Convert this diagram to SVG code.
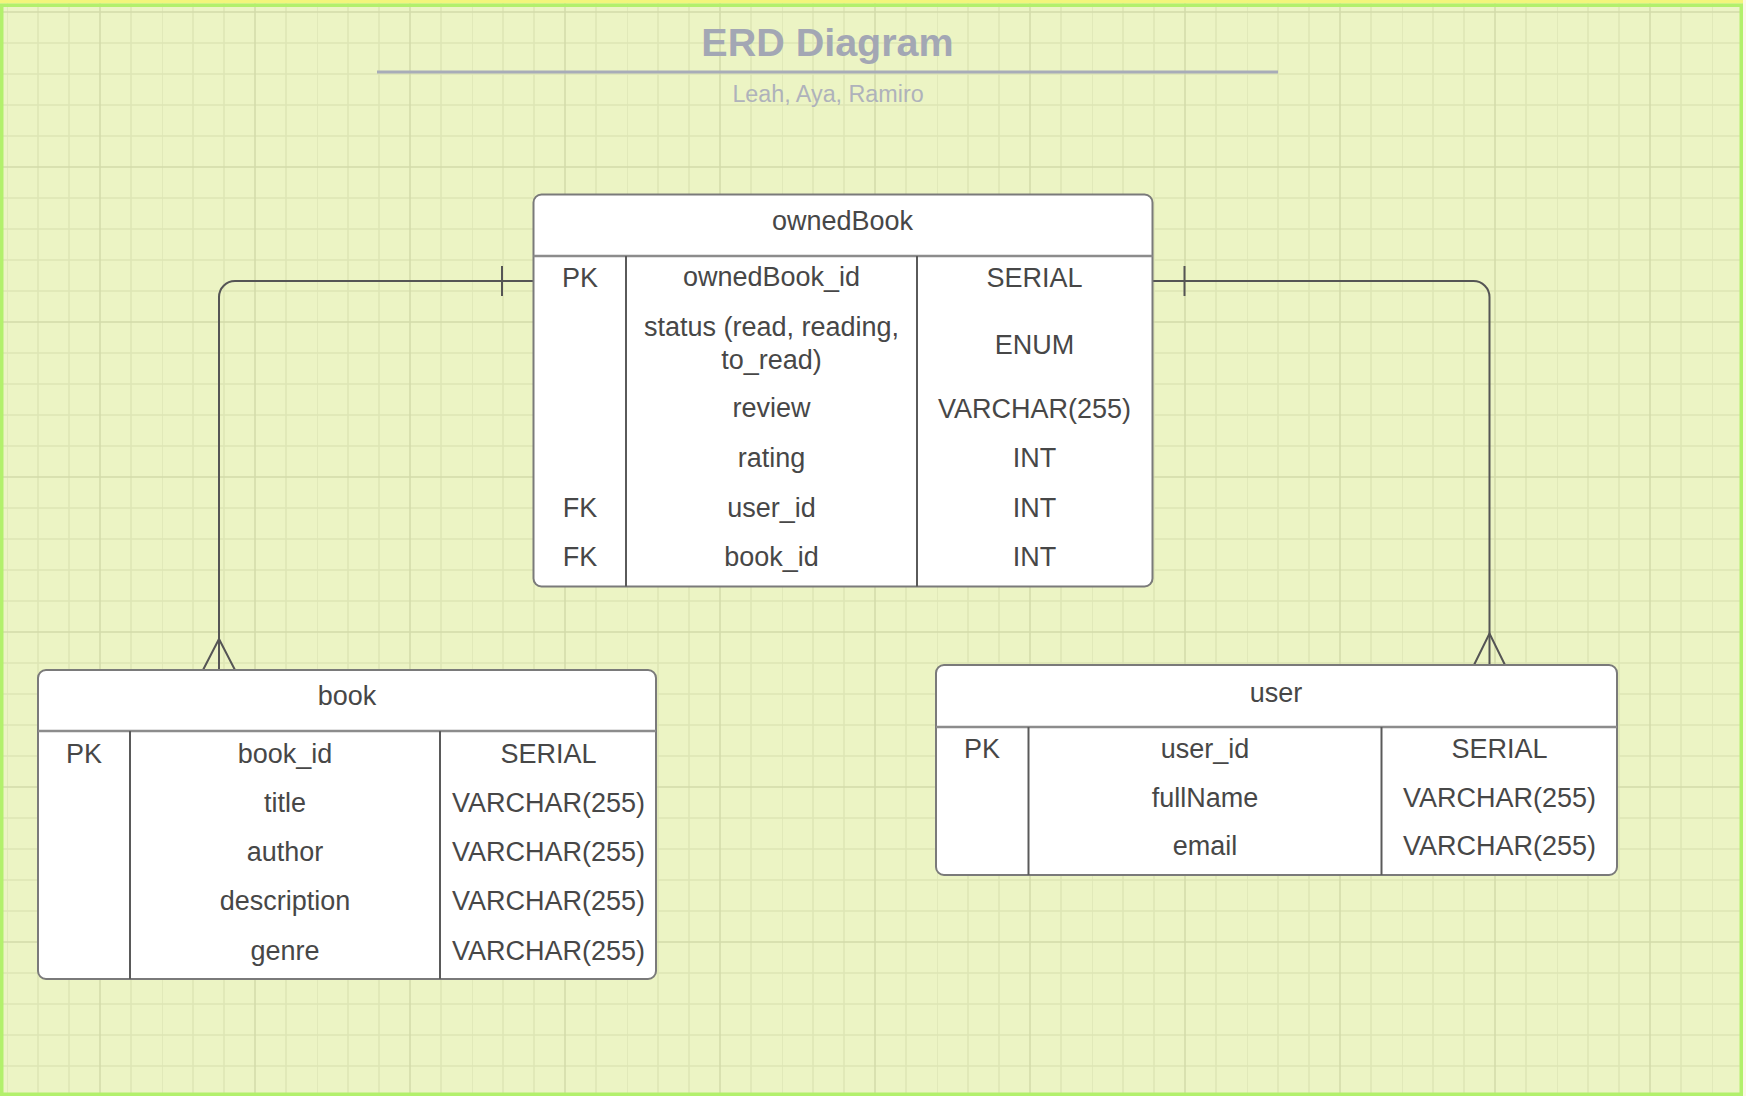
<svg xmlns="http://www.w3.org/2000/svg" width="1746" height="1096" viewBox="0 0 1746 1096">
<defs>
<pattern id="grid" patternUnits="userSpaceOnUse" x="7" y="12" width="155" height="155">
<rect x="0" y="0" width="155" height="155" fill="#ecf4c4"/>
<rect x="-0.75" y="0" width="1.5" height="155" fill="#dee6b5"/>
<rect x="30.25" y="0" width="1.5" height="155" fill="#dee6b5"/>
<rect x="61.25" y="0" width="1.5" height="155" fill="#dee6b5"/>
<rect x="123.25" y="0" width="1.5" height="155" fill="#dee6b5"/>
<rect x="0" y="30.25" width="155" height="1.5" fill="#dee6b5"/>
<rect x="0" y="61.25" width="155" height="1.5" fill="#dee6b5"/>
<rect x="0" y="92.25" width="155" height="1.5" fill="#dee6b5"/>
<rect x="0" y="123.25" width="155" height="1.5" fill="#dee6b5"/>
<rect x="92.25" y="0" width="1.5" height="155" fill="#d3dbaa"/>
<rect x="0" y="-0.75" width="155" height="1.5" fill="#d3dbaa"/>
<rect x="0" y="154.25" width="155" height="1.5" fill="#d3dbaa"/>
</pattern>
</defs>
<style>
.box{fill:#ffffff;stroke:#7a7a7a;stroke-width:2}
.hsep{stroke:#8c8c8c;stroke-width:2.5;fill:none}
.col{stroke:#5a5a5a;stroke-width:2;fill:none}
.t{font-family:"Liberation Sans",Arial,sans-serif;font-size:27px;fill:#474747;text-anchor:middle}
.conn{stroke:#555555;stroke-width:2;fill:none}
.title{font-family:"Liberation Sans",Arial,sans-serif;font-size:39.5px;font-weight:bold;fill:#a3a7b4;text-anchor:middle}
.sub{font-family:"Liberation Sans",Arial,sans-serif;font-size:23.3px;fill:#afb2bb;text-anchor:middle}
</style>
<rect x="0" y="0" width="1746" height="1096" fill="#fcf6ea"/>
<rect x="0" y="0" width="1743" height="1096" fill="url(#grid)"/>
<rect x="0" y="0" width="1743" height="3.5" fill="#f2f57c"/>
<rect x="1.75" y="5.25" width="1739.5" height="1089" fill="none" stroke="#b2f06c" stroke-width="3.5"/>

<g id="header">
<text class="title" x="827.5" y="55.5">ERD Diagram</text>
<line x1="377" y1="72" x2="1278" y2="72" stroke="#a8acb8" stroke-width="3"/>
<text class="sub" x="828" y="102.3">Leah, Aya, Ramiro</text>
</g>

<g id="connectors">
<path class="conn" d="M533.5,281 H235 A16,16 0 0 0 219,297 V670"/>
<path class="conn" d="M203,670 L219,639 L235,670"/>
<path class="conn" d="M502,266 V296"/>
<path class="conn" d="M1152.5,281 H1473.5 A16,16 0 0 1 1489.5,297 V665"/>
<path class="conn" d="M1474,665 L1489.5,633.5 L1505,665"/>
<path class="conn" d="M1184.5,266 V296"/>
</g>

<g id="ownedBook">
<rect class="box" x="533.5" y="194.5" width="619" height="392" rx="8"/>
<line class="hsep" x1="533.5" y1="256" x2="1152.5" y2="256"/>
<line class="col" x1="626" y1="256" x2="626" y2="586.5"/>
<line class="col" x1="917" y1="256" x2="917" y2="586.5"/>
<text class="t" x="842.5" y="230">ownedBook</text>
<text class="t" x="580" y="286.5">PK</text>
<text class="t" x="771.5" y="286">ownedBook_id</text>
<text class="t" x="1034.5" y="286.5">SERIAL</text>
<text class="t" x="771.5" y="335.5">status (read, reading,</text>
<text class="t" x="771.5" y="368.5">to_read)</text>
<text class="t" x="1034.5" y="353.5">ENUM</text>
<text class="t" x="771.5" y="417">review</text>
<text class="t" x="1034.5" y="417.5">VARCHAR(255)</text>
<text class="t" x="771.5" y="467">rating</text>
<text class="t" x="1034.5" y="467">INT</text>
<text class="t" x="580" y="517">FK</text>
<text class="t" x="771.5" y="517">user_id</text>
<text class="t" x="1034.5" y="517">INT</text>
<text class="t" x="580" y="566">FK</text>
<text class="t" x="771.5" y="566">book_id</text>
<text class="t" x="1034.5" y="566">INT</text>
</g>

<g id="book">
<rect class="box" x="38" y="670" width="618" height="309" rx="8"/>
<line class="hsep" x1="38" y1="731" x2="656" y2="731"/>
<line class="col" x1="130" y1="731" x2="130" y2="979"/>
<line class="col" x1="440" y1="731" x2="440" y2="979"/>
<text class="t" x="347" y="705">book</text>
<text class="t" x="84" y="762.5">PK</text>
<text class="t" x="285" y="762.5">book_id</text>
<text class="t" x="548.5" y="762.5">SERIAL</text>
<text class="t" x="285" y="811.8">title</text>
<text class="t" x="548.5" y="811.8">VARCHAR(255)</text>
<text class="t" x="285" y="861.1">author</text>
<text class="t" x="548.5" y="861.1">VARCHAR(255)</text>
<text class="t" x="285" y="910.4">description</text>
<text class="t" x="548.5" y="910.4">VARCHAR(255)</text>
<text class="t" x="285" y="959.7">genre</text>
<text class="t" x="548.5" y="959.7">VARCHAR(255)</text>
</g>

<g id="user">
<rect class="box" x="936" y="665" width="681" height="210" rx="8"/>
<line class="hsep" x1="936" y1="727" x2="1617" y2="727"/>
<line class="col" x1="1028.5" y1="727" x2="1028.5" y2="875"/>
<line class="col" x1="1381.5" y1="727" x2="1381.5" y2="875"/>
<text class="t" x="1276" y="701.7">user</text>
<text class="t" x="982" y="758.3">PK</text>
<text class="t" x="1205" y="758.3">user_id</text>
<text class="t" x="1499.5" y="758.3">SERIAL</text>
<text class="t" x="1205" y="806.7">fullName</text>
<text class="t" x="1499.5" y="806.7">VARCHAR(255)</text>
<text class="t" x="1205" y="855">email</text>
<text class="t" x="1499.5" y="855">VARCHAR(255)</text>
</g>
</svg>
